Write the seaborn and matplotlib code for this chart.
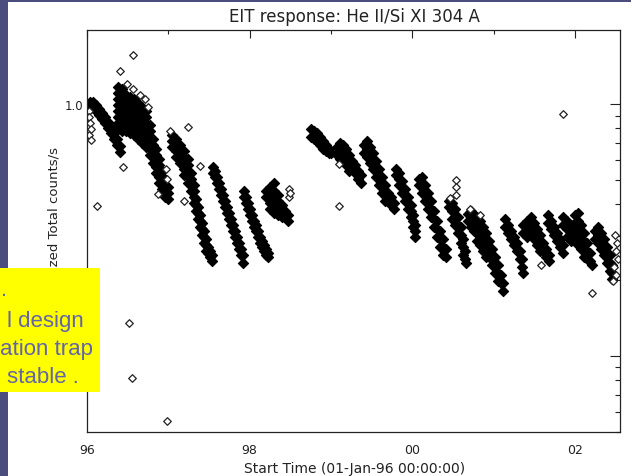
import matplotlib
matplotlib.use("Agg")
import matplotlib.pyplot as plt
from matplotlib.patches import Rectangle
from matplotlib.ticker import FixedLocator, FixedFormatter, NullFormatter
import pandas as pd
import seaborn as sns

# dense runs of readings: (decimal year, [normalized counts at that time])
track_96a = [
    (1996.037, [1.018, 0.964]), (1996.074, [1.018, 0.964]), (1996.111, [0.991, 0.938]),
    (1996.148, [0.955, 0.904]), (1996.184, [0.921, 0.872]), (1996.221, [0.888, 0.840]),
    (1996.258, [0.848, 0.803]), (1996.295, [0.810, 0.767]), (1996.332, [0.767, 0.726]),
    (1996.369, [0.726, 0.688]), (1996.406, [0.681, 0.645]),
]
track_96b = [
    (1996.381, [1.168, 1.106, 1.047, 0.991, 0.938, 0.888, 0.840, 0.796]),
    (1996.430, [1.147, 1.086, 1.028, 0.973, 0.921, 0.872, 0.825, 0.781]),
    (1996.480, [1.086, 1.028, 0.973, 0.921, 0.872, 0.825, 0.781]),
    (1996.529, [1.066, 1.009, 0.955, 0.904, 0.856, 0.810, 0.767]),
    (1996.578, [1.047, 0.991, 0.938, 0.888, 0.840, 0.796, 0.753]),
    (1996.627, [1.009, 0.955, 0.904, 0.856, 0.810, 0.767, 0.726]),
    (1996.676, [0.973, 0.921, 0.872, 0.825, 0.781, 0.740, 0.700]),
    (1996.725, [0.938, 0.888, 0.840, 0.796, 0.753, 0.713, 0.675]),
    (1996.775, [0.825, 0.781, 0.740, 0.700, 0.663, 0.627]),
    (1996.812, [0.726, 0.688, 0.651, 0.616, 0.583]),
    (1996.848, [0.663, 0.627, 0.594, 0.562, 0.532]),
    (1996.885, [0.605, 0.573, 0.542, 0.513, 0.486]),
    (1996.922, [0.542, 0.513, 0.486, 0.460]),
    (1996.959, [0.504, 0.477, 0.452, 0.428]),
    (1996.996, [0.469, 0.444, 0.420]),
]
track_97 = [
    (1997.045, [0.753, 0.713, 0.675]), (1997.094, [0.726, 0.688, 0.651, 0.616]),
    (1997.144, [0.688, 0.651, 0.616, 0.583]), (1997.193, [0.651, 0.616, 0.583, 0.552, 0.523]),
    (1997.242, [0.605, 0.573, 0.542, 0.513, 0.486]), (1997.279, [0.532, 0.504, 0.477, 0.452]),
    (1997.316, [0.477, 0.452, 0.428, 0.405]), (1997.340, [0.420, 0.398, 0.376]),
    (1997.365, [0.390, 0.369, 0.350]), (1997.389, [0.363, 0.343, 0.325]),
    (1997.414, [0.337, 0.319, 0.302]), (1997.439, [0.313, 0.297, 0.281]),
    (1997.463, [0.291, 0.276, 0.261]), (1997.488, [0.271, 0.256]),
    (1997.512, [0.261, 0.247]), (1997.537, [0.252, 0.238]),
    (1997.549, [0.562, 0.532]), (1997.574, [0.542, 0.513]), (1997.598, [0.513, 0.486]),
    (1997.623, [0.486, 0.460]), (1997.648, [0.460, 0.436]), (1997.672, [0.436, 0.413]),
    (1997.697, [0.413, 0.390]), (1997.721, [0.390, 0.369]), (1997.746, [0.369, 0.350]),
    (1997.771, [0.350, 0.331]), (1997.795, [0.331, 0.313]), (1997.820, [0.313, 0.297]),
    (1997.844, [0.297, 0.281]), (1997.869, [0.281, 0.266]), (1997.894, [0.266, 0.252]),
    (1997.918, [0.252, 0.234]),
]
track_98 = [
    (1997.930, [0.452, 0.428]), (1997.955, [0.428, 0.405]), (1997.980, [0.405, 0.383]),
    (1998.004, [0.383, 0.363]), (1998.029, [0.363, 0.343]), (1998.053, [0.343, 0.325]),
    (1998.078, [0.331, 0.313]), (1998.103, [0.313, 0.297]), (1998.127, [0.297, 0.281]),
    (1998.152, [0.286, 0.271]), (1998.176, [0.276, 0.261]), (1998.201, [0.266, 0.252]),
    (1998.226, [0.256, 0.247]),
    (1998.201, [0.452, 0.428]), (1998.250, [0.469, 0.436, 0.405, 0.383]),
    (1998.299, [0.486, 0.452, 0.420, 0.390, 0.369]), (1998.349, [0.436, 0.413, 0.383, 0.363]),
    (1998.398, [0.398, 0.376, 0.356]), (1998.435, [0.376, 0.356]),
    (1998.471, [0.363, 0.343]),
]
track_99 = [
    (1998.754, [0.796, 0.740]), (1998.791, [0.781, 0.726]), (1998.828, [0.767, 0.713]),
    (1998.865, [0.740, 0.688]), (1998.902, [0.713, 0.663]), (1998.939, [0.688, 0.651]),
    (1998.976, [0.663, 0.639]), (1999.000, [0.639]),
    (1999.074, [0.675, 0.627]), (1999.111, [0.700, 0.651, 0.605]),
    (1999.148, [0.688, 0.639, 0.594]), (1999.185, [0.663, 0.616, 0.573]),
    (1999.222, [0.627, 0.583, 0.542]), (1999.258, [0.594, 0.552]),
    (1999.295, [0.573, 0.532]), (1999.332, [0.542, 0.504]), (1999.369, [0.523, 0.486]),
    (1999.406, [0.688, 0.639]), (1999.443, [0.713, 0.663, 0.616]),
    (1999.480, [0.675, 0.627, 0.583]), (1999.517, [0.639, 0.594, 0.552]),
    (1999.554, [0.594, 0.552, 0.513]), (1999.590, [0.552, 0.513, 0.477]),
    (1999.627, [0.513, 0.477, 0.444]), (1999.664, [0.477, 0.444, 0.413]),
    (1999.701, [0.444, 0.413]), (1999.738, [0.428, 0.398]), (1999.775, [0.405, 0.383]),
    (1999.800, [0.552, 0.523]), (1999.836, [0.532, 0.504, 0.477]),
    (1999.873, [0.495, 0.469, 0.444]), (1999.910, [0.460, 0.436, 0.413]),
    (1999.947, [0.428, 0.405, 0.383]), (1999.984, [0.398, 0.376, 0.356]),
]
track_00 = [
    (2000.008, [0.363, 0.343, 0.325]), (2000.033, [0.331, 0.313, 0.297]),
    (2000.082, [0.504, 0.477]), (2000.119, [0.513, 0.477, 0.444]),
    (2000.156, [0.477, 0.444, 0.413]), (2000.193, [0.444, 0.413, 0.383]),
    (2000.230, [0.413, 0.383, 0.356]), (2000.267, [0.376, 0.350, 0.325]),
    (2000.304, [0.343, 0.319, 0.297]), (2000.340, [0.313, 0.291, 0.271]),
    (2000.377, [0.291, 0.271, 0.252]), (2000.414, [0.266, 0.247]),
    (2000.451, [0.413, 0.390]), (2000.488, [0.405, 0.376, 0.350]),
    (2000.525, [0.383, 0.356, 0.331]), (2000.562, [0.356, 0.331, 0.308]),
    (2000.599, [0.325, 0.302, 0.281]), (2000.623, [0.291, 0.271, 0.252]),
    (2000.648, [0.261, 0.243]), (2000.660, [0.234]),
    (2000.685, [0.366, 0.343]), (2000.722, [0.376, 0.350, 0.325]),
    (2000.759, [0.363, 0.337, 0.313]), (2000.795, [0.356, 0.331, 0.308, 0.286]),
    (2000.832, [0.343, 0.319, 0.297, 0.276]), (2000.869, [0.325, 0.302, 0.281, 0.261]),
    (2000.906, [0.308, 0.286, 0.266, 0.247]), (2000.943, [0.286, 0.266, 0.247]),
    (2000.980, [0.266, 0.247, 0.230]),
]
track_01 = [
    (2001.017, [0.247, 0.230, 0.214]), (2001.054, [0.230, 0.214, 0.199]),
    (2001.091, [0.210, 0.195]), (2001.115, [0.195, 0.181]),
    (2001.140, [0.350, 0.325]), (2001.177, [0.331, 0.308]), (2001.214, [0.313, 0.291]),
    (2001.251, [0.297, 0.276]), (2001.287, [0.281, 0.261]), (2001.324, [0.261, 0.243]),
    (2001.349, [0.243, 0.226]), (2001.361, [0.214, 0.331, 0.308]),
    (2001.410, [0.343, 0.319, 0.297]), (2001.459, [0.356, 0.331, 0.308]),
    (2001.496, [0.337, 0.313, 0.291]), (2001.533, [0.319, 0.297, 0.276]),
    (2001.570, [0.302, 0.281, 0.261]), (2001.607, [0.281, 0.261]),
    (2001.644, [0.266, 0.247]), (2001.681, [0.252, 0.238]),
    (2001.669, [0.363, 0.337]), (2001.705, [0.343, 0.319]), (2001.742, [0.325, 0.302]),
    (2001.779, [0.308, 0.286]), (2001.816, [0.291, 0.271]), (2001.853, [0.276, 0.256]),
    (2001.853, [0.356, 0.331]), (2001.902, [0.343, 0.319, 0.297]),
    (2001.951, [0.331, 0.308, 0.286]),
]
track_02 = [
    (2002.000, [0.363, 0.337, 0.313, 0.291]), (2002.037, [0.369, 0.343, 0.319, 0.297, 0.276]),
    (2002.074, [0.331, 0.308, 0.286, 0.266]), (2002.111, [0.308, 0.286, 0.266, 0.247]),
    (2002.148, [0.281, 0.261, 0.243]), (2002.185, [0.256, 0.238]), (2002.209, [0.230]),
    (2002.246, [0.313, 0.291]), (2002.283, [0.325, 0.302, 0.281]),
    (2002.320, [0.308, 0.286, 0.266]), (2002.357, [0.291, 0.271, 0.252]),
    (2002.394, [0.271, 0.252, 0.234]), (2002.430, [0.252, 0.234, 0.218]),
    (2002.455, [0.230, 0.214, 0.202]),
]
# isolated readings
stray = [
    (1996.025, [0.938, 0.888, 0.753]), (1996.037, [0.840]), (1996.049, [0.796, 0.719]),
    (1996.123, [0.394]), (1996.443, [0.562]),
    (1996.406, [1.352]), (1996.566, [1.564, 1.147]), (1996.492, [1.200]),
    (1996.652, [1.086]), (1996.713, [1.047]), (1996.750, [0.973]),
    (1996.873, [0.439]), (1996.971, [0.552]), (1996.984, [0.504]),
    (1996.516, [0.135]), (1996.553, [0.0818]), (1996.984, [0.0552]),
    (1997.021, [0.781]), (1997.242, [0.810]), (1997.389, [0.567]), (1997.193, [0.413]),
    (1998.484, [0.460, 0.428]), (1998.496, [0.444]),
    (1999.099, [0.578, 0.394]),
    (2000.537, [0.499, 0.469, 0.436]), (2000.463, [0.424]),
    (2000.709, [0.383]), (2000.832, [0.363]),
    (2001.582, [0.230]), (2001.853, [0.913]), (2002.209, [0.178]),
    (2002.492, [0.302]), (2002.517, [0.281]), (2002.504, [0.261, 0.210]),
    (2002.529, [0.243]), (2002.480, [0.226]), (2002.467, [0.199]),
]

x_ticks = [1996, 1998, 2000, 2002]
x_labels = ["96", "98", "00", "02"]
x_minor = [1997, 1999, 2001]
y_ticks = [0.1, 1.0]
y_labels = ["0.1", "1.0"]
y_minor = [0.05, 0.06, 0.07, 0.08, 0.09, 0.2, 0.3, 0.4, 0.5, 0.6, 0.7, 0.8, 0.9]


def to_frame(runs):
    rows = []
    for run in runs:
        for t, vals in run:
            for v in vals:
                rows.append((t, v))
    return pd.DataFrame(rows, columns=["year", "norm"])


dense = to_frame([track_96a, track_96b, track_97, track_98, track_99,
                  track_00, track_01, track_02])
sparse = to_frame([stray])

sns.set_style("white")
W, H = 631, 477
fig = plt.figure(figsize=(W / 100, H / 100), dpi=100)
fig.patch.set_facecolor("white")
ax = fig.add_axes([87 / W, 44 / H, 533 / W, 402 / H])

# overplotted diamonds merge into solid black bands
sns.scatterplot(data=dense, x="year", y="norm", marker="D", s=27,
                facecolor="black", edgecolor="black", linewidth=0.8,
                ax=ax, legend=False)
sns.scatterplot(data=sparse, x="year", y="norm", marker="D", s=15,
                facecolor="white", edgecolor="#222222", linewidth=0.9,
                ax=ax, legend=False)

ax.set_yscale("log")
ax.set_xlim(1996.0, 2002.553)
ax.set_ylim(0.0499, 1.966)
ax.set_xticks(x_ticks)
ax.set_xticklabels(x_labels)
ax.set_xticks(x_minor, minor=True)
ax.yaxis.set_major_locator(FixedLocator(y_ticks))
ax.yaxis.set_major_formatter(FixedFormatter(y_labels))
ax.yaxis.set_minor_locator(FixedLocator(y_minor))
ax.yaxis.set_minor_formatter(NullFormatter())
ax.set_xlabel("")
ax.set_ylabel("")

ax.tick_params(which="both", direction="in", top=True, right=True,
               color="#222222", width=0.8, labelcolor="#222222")
ax.tick_params(axis="x", which="major", length=5.8, pad=8, labelsize=9)
ax.tick_params(axis="x", which="minor", length=3)
ax.tick_params(axis="y", which="major", length=7.5, pad=3, labelsize=8.5)
ax.tick_params(axis="y", which="minor", length=3.6)
for sp in ax.spines.values():
    sp.set_color("#222222")
    sp.set_linewidth(0.9)

fig.text(354 / W, 1 - 22 / H, "EIT response: He II/Si XI 304 A", ha="center",
         va="baseline", fontsize=12, color="#222222")
fig.text(355 / W, 1 - 473 / H, "Start Time (01-Jan-96 00:00:00)", ha="center",
         va="baseline", fontsize=10, color="#222222")
fig.text(54 / W, 1 - 232 / H, "Normalized Total counts/s", rotation=90,
         ha="center", va="center", fontsize=9.5, color="#222222")

# slide background strips and the yellow call-out box
blue = "#4a4d7d"
fig.patches.append(Rectangle((0, 0), 8 / W, 1, transform=fig.transFigure,
                             facecolor=blue, edgecolor="none", zorder=5))
fig.patches.append(Rectangle((0, 1 - 3 / H), 1, 3 / H, transform=fig.transFigure,
                             facecolor=blue, edgecolor="none", zorder=5))
fig.patches.append(Rectangle((0, 84 / H), 100 / W, 124 / H, transform=fig.transFigure,
                             facecolor="#ffff00", edgecolor="none", zorder=10))
box_lines = [(".", 7, 296), ("l design", 84, 327), ("ation trap", 93, 355), ("stable .", 79, 383)]
for txt, xr, yb in box_lines:
    fig.text(xr / W, 1 - yb / H, txt, ha="right", va="baseline", fontsize=16,
             family="Liberation Sans", color="#6464a8", zorder=11)

fig.savefig("out.png", dpi=100)
